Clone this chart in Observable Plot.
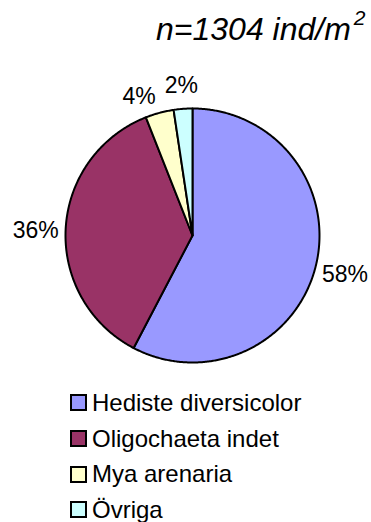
<!DOCTYPE html>
<html><head><meta charset="utf-8">
<script src="https://cdn.jsdelivr.net/npm/d3@7"></script>
<script src="https://cdn.jsdelivr.net/npm/@observablehq/plot@0.6"></script>
<style>
body{margin:0;background:#fff;font-family:"Liberation Sans",Arial,sans-serif;color:#000;}
#wrap{position:relative;width:371px;height:522px;overflow:hidden;}
#sub{position:absolute;left:156px;top:11px;font-size:32px;font-style:italic;line-height:36px;white-space:nowrap;}
#sub sup{font-size:21px;vertical-align:baseline;position:relative;top:-15px;margin-left:3px;}
#chart{position:absolute;left:0;top:60px;}
#legend{position:absolute;left:70px;top:385px;}
.row{display:flex;align-items:center;height:35.7px;font-size:24px;line-height:24px;white-space:nowrap;}
.sw{width:17px;height:17px;box-sizing:border-box;border:2px solid #000;margin-right:5px;}
</style></head>
<body><div id="wrap"><div id="sub"></div><div id="chart"></div><div id="legend"></div></div>
<script>
const species = ["Hediste diversicolor", "Oligochaeta indet", "Mya arenaria", "Övriga"];
const density = [752, 474, 47, 31];
const colors = ["#9999FF", "#993366", "#FFFFCC", "#CCFFFF"];
const subtitleText = "n=1304 ind/m";
const subtitleSup = "2";

const total = d3.sum(density);
let acc = 0;
const slices = species.map((name, i) => {
  const t0 = acc / total * 2 * Math.PI;
  acc += density[i];
  const t1 = acc / total * 2 * Math.PI;
  return {name, value: density[i], t0, t1, label: Math.round(density[i] / total * 100) + "%"};
});

// polygon outlines for each slice (center + arc), in unit-circle coordinates
const pts = [];
for (const s of slices) {
  pts.push({name: s.name, x: 0, y: 0});
  const n = Math.max(2, Math.ceil((s.t1 - s.t0) / (Math.PI / 360)));
  for (let k = 0; k <= n; k++) {
    const t = s.t0 + (s.t1 - s.t0) * k / n;
    pts.push({name: s.name, x: Math.sin(t), y: Math.cos(t)});
  }
}

const R = 127, gap = 7, fs = 23;
const textW = str => fs * d3.sum(str, c => c === "%" ? 0.889 : 0.556);
const labels = slices.map(s => {
  const m = (s.t0 + s.t1) / 2;
  const dx = Math.sin(m), dy = Math.cos(m);
  const halfW = textW(s.label) / 2, halfH = 19;
  return {
    text: s.label,
    x: dx * (1 + gap / R) + dx * halfW / R,
    y: dy * (1 + gap / R) + dy * halfH / R
  };
});
// simple de-overlap for labels above the pie (Excel-like nudging)
for (let i = labels.length - 2; i >= 0; i--) {
  const a = labels[i], b = labels[i + 1];
  const wa = textW(a.text) / R, wb = textW(b.text) / R;
  if (Math.abs(a.y - b.y) * R < fs && a.x < b.x) {
    const ov = (a.x + wa / 2) - (b.x - wb / 2) + 9 / R;
    if (ov > 0) { a.x -= ov; a.y -= 6 / R; }
  }
}

const plot = Plot.plot({
  width: 371, height: 320,
  marginLeft: 65, marginRight: 52, marginTop: 48, marginBottom: 18,
  x: {domain: [-1, 1], axis: null},
  y: {domain: [-1, 1], axis: null},
  color: {domain: species, range: colors},
  style: {fontFamily: "'Liberation Sans', Arial, sans-serif", background: "transparent", overflow: "visible"},
  marks: [
    Plot.line(pts, {x: "x", y: "y", z: "name", fill: "name", stroke: "black", strokeWidth: 2, curve: "linear-closed", strokeLinejoin: "round"}),
    Plot.text(labels, {x: "x", y: "y", text: "text", fontSize: fs, fill: "black", lineAnchor: "middle", textAnchor: "middle", dy: 3})
  ]
});
document.getElementById("chart").appendChild(plot);

const sub = document.getElementById("sub");
sub.appendChild(document.createTextNode(subtitleText));
const sup = document.createElement("sup");
sup.textContent = subtitleSup;
sub.appendChild(sup);

const leg = document.getElementById("legend");
species.forEach((name, i) => {
  const row = document.createElement("div");
  row.className = "row";
  const sw = document.createElement("span");
  sw.className = "sw";
  sw.style.background = colors[i];
  row.appendChild(sw);
  row.appendChild(document.createTextNode(name));
  leg.appendChild(row);
});
</script>
</body></html>
